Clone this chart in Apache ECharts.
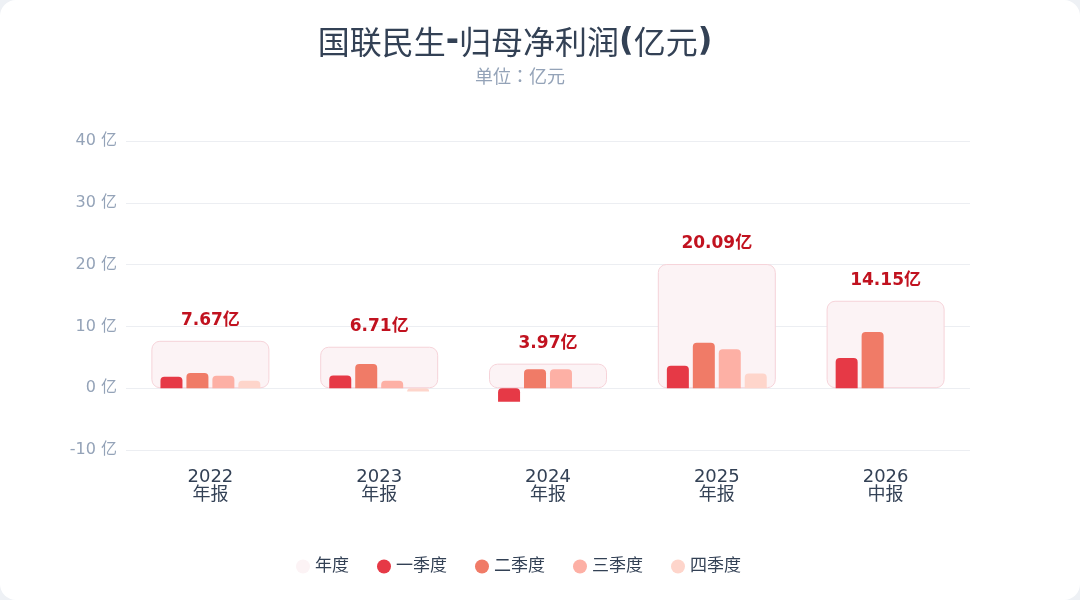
<!DOCTYPE html>
<html>
<head>
<meta charset="utf-8">
<script src="https://cdn.jsdelivr.net/npm/echarts@6/dist/echarts.min.js"></script>
<style>
  html, body { margin: 0; padding: 0; background: #eef1f5; }
  #chart { width: 1080px; height: 600px; background: #fff; border-radius: 16px; overflow: hidden; }
</style>
</head>
<body>
<div id="chart"></div>
<script>
// 报告期
const categories = ['2022\n年报', '2023\n年报', '2024\n年报', '2025\n年报', '2026\n中报'];
// 年度归母净利润(亿元)
const annual = [7.67, 6.71, 3.97, 20.09, 14.15];
// 单季度(亿元)
const q1 = [1.85, 2.05, -2.2, 3.65, 4.89];
const q2 = [2.45, 3.9, 3.05, 7.37, 9.08];
const q3 = [2.0, 1.2, 3.05, 6.29, null];
const q4 = [1.2, -0.55, null, 2.37, null];
const yTicks = { min: -10, max: 40, interval: 10 };

const quarterColors = ['#e63946', '#f07b67', '#fdb0a5', '#fed5cb'];
const fontStack = "'DejaVu Sans', 'Noto Sans CJK SC', sans-serif";
const cjkStack = "'Noto Sans CJK SC', 'DejaVu Sans', sans-serif";
const subStack = "'Noto Sans CJK JP', 'DejaVu Sans', sans-serif";

const chart = echarts.init(document.getElementById('chart'));

function quarterSeries(name, data, color) {
  return {
    name: name,
    type: 'bar',
    xAxisIndex: 1,
    data: data,
    barWidth: 22,
    barGap: '18%',
    itemStyle: { color: color, borderRadius: [4, 4, 0, 0] },
    z: 3
  };
}

const option = {
  textStyle: { fontFamily: fontStack },
  title: [
    {
      // 标题中文常规字重，符号加粗
      text: '{c|国联民生}{s|-}{c|归母净利润}{s|(}{c|亿元}{s|)}',
      left: 510,
      top: 21,
      textAlign: 'center',
      textStyle: {
        fontSize: 32,
        color: '#334155',
        rich: {
          c: { fontSize: 32, color: '#334155', fontWeight: 'normal', fontFamily: cjkStack },
          s: { fontSize: 32, color: '#334155', fontWeight: 'bold', fontFamily: fontStack }
        }
      }
    },
    {
      text: '单位：亿元',
      left: 515,
      top: 62,
      textAlign: 'center',
      textStyle: { fontSize: 18, fontWeight: 'normal', color: '#94a3b8', fontFamily: subStack }
    }
  ],
  legend: {
    bottom: 20,
    left: 291,
    icon: 'circle',
    itemWidth: 14,
    itemHeight: 14,
    itemGap: 28,
    textStyle: { fontSize: 17, color: '#334155', fontFamily: fontStack },
    data: [
      { name: '年度', itemStyle: { borderWidth: 0 } },
      '一季度', '二季度', '三季度', '四季度'
    ]
  },
  grid: { left: 126, right: 110, top: 141, bottom: 150 },
  xAxis: [
    {
      type: 'category',
      data: categories,
      axisLine: { show: false },
      axisTick: { show: false },
      axisLabel: { fontSize: 18, color: '#334155', lineHeight: 18, margin: 18 }
    },
    {
      type: 'category',
      data: categories,
      show: false
    }
  ],
  yAxis: {
    type: 'value',
    min: yTicks.min,
    max: yTicks.max,
    interval: yTicks.interval,
    axisLine: { show: false },
    axisTick: { show: false },
    axisLabel: { formatter: '{value} 亿', fontSize: 16, color: '#94a3b8', margin: 9 },
    splitLine: { lineStyle: { color: '#eceef2' } }
  },
  series: [
    {
      name: '年度',
      type: 'bar',
      xAxisIndex: 0,
      data: annual,
      barWidth: 118,
      itemStyle: {
        color: '#fcf3f5',
        borderColor: '#f6d3d9',
        borderWidth: 1,
        borderRadius: 8
      },
      label: {
        show: true,
        position: 'top',
        distance: 12,
        formatter: '{c}亿',
        fontSize: 17,
        fontWeight: 'bold',
        color: '#c1121f'
      },
      z: 2
    },
    quarterSeries('一季度', q1, quarterColors[0]),
    quarterSeries('二季度', q2, quarterColors[1]),
    quarterSeries('三季度', q3, quarterColors[2]),
    quarterSeries('四季度', q4, quarterColors[3])
  ]
};

chart.setOption(option);
</script>
</body>
</html>
